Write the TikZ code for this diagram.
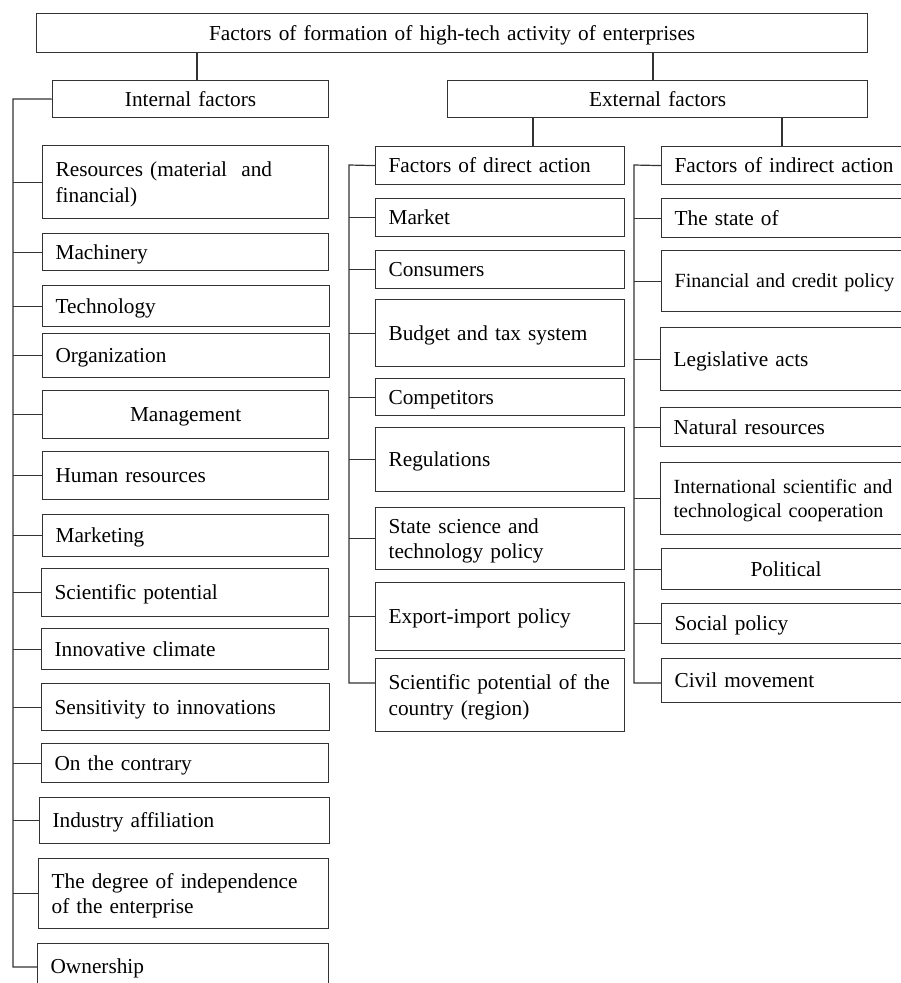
\documentclass[tikz,border=0pt]{standalone}
\usepackage{fontspec}
\setmainfont{Liberation Serif}
\begin{document}
\begin{tikzpicture}[x=1pt,y=-1pt]
\tikzset{
  bx/.style={draw=black!80, line width=1.2pt, anchor=north west, inner xsep=13pt, inner ysep=0pt,
             align=left, font=\fontsize{21.3}{25.5}\selectfont, text=black,
             execute at begin node={\rule[-0.216em]{0pt}{1.107em}}},
  cbx/.style={bx, align=center},
  mcol/.style={bx, minimum width=249pt, text width=223pt},
  narrow/.style={font=\fontsize{20.1}{23.5}\selectfont},
  ln/.style={draw=black!80, line width=1.2pt},
}
\useasboundingbox (0,0) rectangle (901,983);
\clip (0,0) rectangle (901,983);

% top level
\node[cbx, minimum width=831pt, minimum height=39pt, text width=805pt] (title) at (36,13)
  {Factors of formation of high-tech activity of enterprises};
\node[cbx, minimum width=276pt, minimum height=37pt, text width=250pt] (int) at (52,80) {Internal factors};
\node[cbx, minimum width=420pt, minimum height=37pt, text width=394pt] (ext) at (447,80) {External factors};

% left column
\node[bx, minimum width=286pt, minimum height=73pt, text width=260pt] (res) at (42,145) {\mbox{Resources (material\ \ and}\\\mbox{financial)}};
\node[bx, minimum width=286pt, minimum height=37pt, text width=260pt] (mach) at (42,233) {Machinery};
\node[bx, minimum width=287pt, minimum height=41pt, text width=261pt] (tech) at (42,285) {Technology};
\node[bx, minimum width=287pt, minimum height=44pt, text width=261pt] (org) at (42,333) {Organization};
\node[cbx, minimum width=286pt, minimum height=48pt, text width=260pt] (mgmt) at (42,390) {Management};
\node[bx, minimum width=286pt, minimum height=48pt, text width=260pt] (hum) at (42,451) {Human resources};
\node[bx, minimum width=286pt, minimum height=42pt, text width=260pt] (mktg) at (42,514) {Marketing};
\node[bx, minimum width=287pt, minimum height=48pt, text width=261pt] (sci) at (41,568) {Scientific potential};
\node[bx, minimum width=287pt, minimum height=41pt, text width=261pt] (inn) at (41,628) {Innovative climate};
\node[bx, minimum width=288pt, minimum height=47pt, text width=262pt] (sens) at (41,683) {\mbox{Sensitivity to innovations}};
\node[bx, minimum width=287pt, minimum height=39pt, text width=261pt] (cont) at (41,743) {On the contrary};
\node[bx, minimum width=290pt, minimum height=46pt, text width=264pt] (indus) at (39,797) {Industry affiliation};
\node[bx, minimum width=290pt, minimum height=70pt, text width=264pt] (deg) at (38,858) {\mbox{The degree of independence}\\\mbox{of the enterprise}};
\node[bx, minimum width=291pt, minimum height=45pt, text width=265pt] (own) at (37,943) {Ownership};

% middle column
\node[mcol, minimum height=38pt] (dir) at (375,146) {\mbox{Factors of direct action}};
\node[mcol, minimum height=38pt] (mrk) at (375,198) {Market};
\node[mcol, minimum height=38pt] (cons) at (375,250) {Consumers};
\node[mcol, minimum height=67pt] (bud) at (375,299) {\mbox{Budget and tax system}};
\node[mcol, minimum height=37pt] (comp) at (375,378) {Competitors};
\node[mcol, minimum height=64pt] (reg) at (375,427) {Regulations};
\node[mcol, minimum height=62pt] (ssp) at (375,507) {\mbox{State science and}\\\mbox{technology policy}};
\node[mcol, minimum height=68pt] (exp) at (375,582) {\mbox{Export-import policy}};
\node[mcol, minimum height=73pt] (scic) at (375,658) {\mbox{Scientific potential of the}\\\mbox{country (region)}};

% right column
\node[mcol, minimum height=38pt] (ind) at (661,146) {\mbox{Factors of indirect action}};
\node[mcol, minimum height=39pt] (st) at (661,198) {The state of};
\node[mcol, narrow, minimum height=61pt] (fin) at (661,250) {\mbox{Financial and credit policy}};
\node[mcol, minimum height=63pt] (leg) at (660,327) {Legislative acts};
\node[mcol, minimum height=39pt] (nat) at (660,407) {\mbox{Natural resources}};
\node[mcol, narrow, minimum height=72pt] (intl) at (660,462) {\mbox{International scientific and}\\\mbox{technological cooperation}};
\node[mcol, align=center, minimum height=41pt] (pol) at (661,548) {Political};
\node[mcol, minimum height=40pt] (soc) at (661,603) {Social policy};
\node[mcol, minimum height=44pt] (civ) at (661,658) {Civil movement};

% connector guide coordinates
\coordinate (k1) at (197,0);
\coordinate (k2) at (653,0);
\coordinate (k3) at (533,0);
\coordinate (k4) at (782,0);
\coordinate (Ltop) at (13,99);
\coordinate (Lbot) at (13,967);
\coordinate (Mtop) at (349,165);
\coordinate (Mbot) at (349,683);
\coordinate (Rtop) at (634,165);
\coordinate (Rbot) at (634,683);

% top connectors
\draw[ln] (title.south -| k1) -- (int.north -| k1);
\draw[ln] (title.south -| k2) -- (ext.north -| k2);
\draw[ln] (ext.south -| k3) -- (dir.north -| k3);
\draw[ln] (ext.south -| k4) -- (ind.north -| k4);

% left bus
\draw[ln] (int.west) -- (Ltop) -- (Lbot) -- (Lbot -| own.west);
\foreach \n in {res,mach,tech,org,mgmt,hum,mktg,sci,inn,sens,cont,indus,deg}
  \draw[ln] (\n.west) -- (\n.west -| Ltop);

% middle bus
\draw[ln] (dir.west) -- (Mtop) -- (Mbot) -- (Mbot -| scic.west);
\foreach \n in {mrk,cons,bud,comp,reg,ssp,exp}
  \draw[ln] (\n.west) -- (\n.west -| Mtop);

% right bus
\draw[ln] (ind.west) -- (Rtop) -- (Rbot) -- (Rbot -| civ.west);
\foreach \n in {st,fin,leg,nat,intl,pol,soc}
  \draw[ln] (\n.west) -- (\n.west -| Rtop);
\end{tikzpicture}
\end{document}
